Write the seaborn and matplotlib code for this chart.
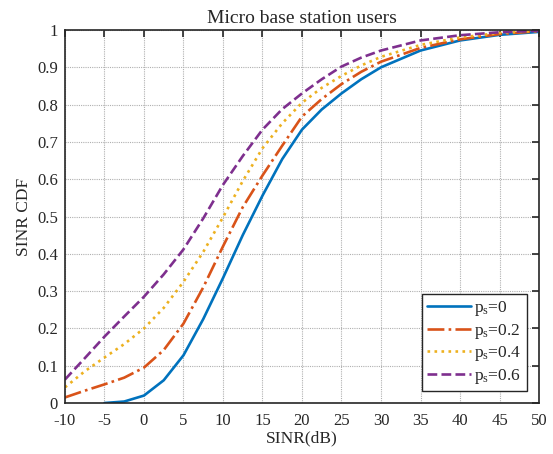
import numpy as np
import pandas as pd
import matplotlib
matplotlib.use("Agg")
import matplotlib.pyplot as plt
import seaborn as sns

# SINR CDF curves for micro base station users, one per p_s value
sinr_db_full = [-10, -7.5, -5, -2.5, 0, 2.5, 5, 7.5, 10, 12.5, 15, 17.5,
                20, 22.5, 25, 27.5, 30, 35, 40, 45, 50]
sinr_db_ps0 = [-5, -2.5, 0, 2.5, 5, 7.5, 10, 12.5, 15, 17.5,
               20, 22.5, 25, 27.5, 30, 35, 40, 45, 50]

cdf_ps0 = [0.0, 0.004, 0.02, 0.061, 0.128, 0.225, 0.335, 0.45, 0.556, 0.654,
           0.733, 0.787, 0.83, 0.868, 0.9, 0.945, 0.972, 0.987, 0.995]
cdf_ps02 = [0.015, 0.033, 0.05, 0.068, 0.095, 0.142, 0.213, 0.31, 0.42, 0.525,
            0.61, 0.69, 0.768, 0.815, 0.855, 0.888, 0.915, 0.952, 0.975, 0.989, 0.997]
cdf_ps04 = [0.042, 0.085, 0.122, 0.158, 0.2, 0.255, 0.325, 0.405, 0.498, 0.595,
            0.683, 0.75, 0.805, 0.845, 0.877, 0.905, 0.928, 0.96, 0.98, 0.992, 0.998]
cdf_ps06 = [0.063, 0.12, 0.178, 0.232, 0.285, 0.345, 0.412, 0.495, 0.585, 0.662,
            0.733, 0.788, 0.83, 0.868, 0.902, 0.926, 0.945, 0.972, 0.986, 0.994, 0.998]

labels = [r"p$_\mathrm{s}$=0", r"p$_\mathrm{s}$=0.2",
          r"p$_\mathrm{s}$=0.4", r"p$_\mathrm{s}$=0.6"]
colors = ["#0072BD", "#D95319", "#EDB120", "#7E2F8E"]

x_ticks = list(range(-10, 51, 5))
y_ticks = [0, 0.1, 0.2, 0.3, 0.4, 0.5, 0.6, 0.7, 0.8, 0.9, 1]
y_tick_labels = ["0", "0.1", "0.2", "0.3", "0.4", "0.5", "0.6", "0.7", "0.8", "0.9", "1"]

sns.set_style("white")
plt.rcParams["font.family"] = ["Liberation Serif", "DejaVu Serif"]
plt.rcParams["mathtext.fontset"] = "custom"
plt.rcParams["mathtext.rm"] = "Liberation Serif"
plt.rcParams["mathtext.it"] = "Liberation Serif:italic"
plt.rcParams["axes.unicode_minus"] = False

fig = plt.figure(figsize=(5.53, 4.54), dpi=100)
ax = fig.add_axes([0.1175, 0.1123, 0.8572, 0.8216])

series = [
    (sinr_db_ps0, cdf_ps0, "-", None),
    (sinr_db_full, cdf_ps02, "-.", (5, 1.5, 1.5, 1.5)),
    (sinr_db_full, cdf_ps04, ":", (1, 1)),
    (sinr_db_full, cdf_ps06, "--", (5, 3)),
]
for (xs, ys, ls, dash), lab, col in zip(series, labels, colors):
    df = pd.DataFrame({"SINR": xs, "CDF": ys})
    kw = dict(linestyle=ls)
    if dash is not None:
        kw["dashes"] = dash
    sns.lineplot(data=df, x="SINR", y="CDF", ax=ax, color=col, lw=1.9,
                 label=lab, **kw)

ax.set_xlim(-10, 50)
ax.set_ylim(0, 1)
ax.set_xticks(x_ticks)
ax.set_yticks(y_ticks)
ax.set_yticklabels(y_tick_labels)
ax.grid(True, color="#b0b0b0", linestyle=(0, (1, 1)), linewidth=0.8)
ax.tick_params(direction="in", top=True, right=True, length=5, width=1.2,
               labelsize=12, colors="#262626")
ax.tick_params(axis="x", pad=7)
ax.tick_params(axis="y", pad=5)
for sp in ax.spines.values():
    sp.set_visible(True)
    sp.set_color("#262626")
    sp.set_linewidth(1.2)

ax.set_title("Micro base station users", fontsize=14, pad=5)
ax.set_xlabel("SINR(dB)", fontsize=12.5, labelpad=1)
ax.set_ylabel("SINR CDF", fontsize=12.5, labelpad=4)

leg = ax.legend(loc="lower right", fontsize=12.5, frameon=True, fancybox=False,
                edgecolor="#262626", framealpha=1, handlelength=2.5,
                handletextpad=0.2, borderpad=0.3, labelspacing=0.2,
                borderaxespad=0.7)
leg.get_frame().set_linewidth(1.0)

fig.savefig("out.png", dpi=100)
